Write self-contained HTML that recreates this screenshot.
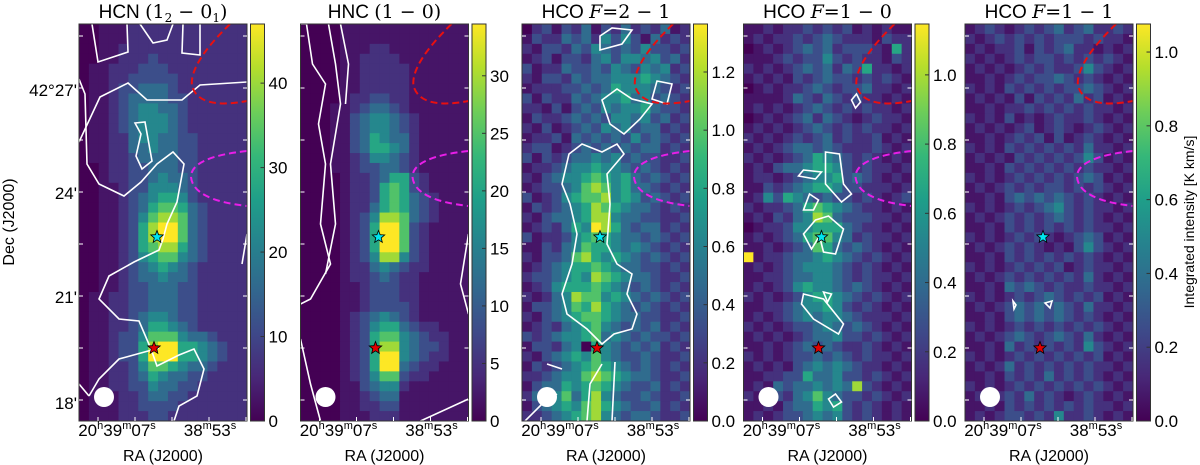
<!DOCTYPE html>
<html><head><meta charset="utf-8">
<style>
html,body{margin:0;padding:0;background:#fff;}
svg{display:block;font-family:"Liberation Sans",sans-serif;}
.m{font-family:"DejaVu Serif","Liberation Serif",serif;}
.mi{font-family:"DejaVu Serif","Liberation Serif",serif;font-style:italic;}
</style></head>
<body>
<svg id="fig" width="1200" height="465" viewBox="0 0 1200 465" xmlns="http://www.w3.org/2000/svg">
<text x="14" y="222" font-size="16" text-anchor="middle" transform="rotate(-90 14 222)">Dec (J2000)</text>
<text x="1194" y="222" font-size="14" text-anchor="middle" transform="rotate(-90 1194 222)">Integrated intensity [K km/s]</text>
</svg>
<script>
const panelTitles = ["HCN", "HNC", "HCO", "HCO", "HCO"];
const panelMax = [47, 34.5, 1.365, 1.147, 1.076];
const cbTicks = [[0,10,20,30,40],[0,5,10,15,20,25,30],[0,0.2,0.4,0.6,0.8,1.0,1.2],[0,0.2,0.4,0.6,0.8,1.0],[0,0.2,0.4,0.6,0.8,1.0]];
const cbLabels = [["0","10","20","30","40"],["0","5","10","15","20","25","30"],["0.0","0.2","0.4","0.6","0.8","1.0","1.2"],["0.0","0.2","0.4","0.6","0.8","1.0"],["0.0","0.2","0.4","0.6","0.8","1.0"]];
const decLabels = ["42°27'","24'","21'","18'"];
const decPos = [90,193,297,403];
const hcn = ["00111222222222222","00111222222222222","00112222222222222","00112223222222222","01122233322222222","01122333332222222","01123344432222222","01123444433222222","01123455443222222","01123455543222222","01123455543222222","01122455443322222","01122445443322222","01122344443322222","00122334443322222","00122334544322222","00112335554322222","00112345665322222","00112346776432222","00112357887432222","00112368997432222","00112368997432222","00112367886432222","00112356775432222","00112345654322222","00112344544322222","00112334443322222","01122334443322222","01122334443322222","01122345543322222","01122346654322222","01123357775443222","01123368996654322","01123369996654322","01122357765443222","01122346544332222","01122335443322222","01112234433222222","01112233332222222","01112223322222222"];
const hnc = ["00001111111111111","00001111111111111","00001112211111111","00001122221111111","00001122222111111","00001122222111111","00001122222111111","00001223322111111","00011234432111111","00011345543211111","00011345543211111","00011346544211111","00011346654211111","00011235543211111","00011233443211111","00001223466321111","00001223676321111","00001223676432111","00001224676432111","00001235887432111","00001236997321111","00001236997321111","00001236997321111","00001235885321111","00001224543221111","00001223432211111","00001123332211111","00001123332211111","00001123333211111","00001234543211111","00001235664322111","00001236775432211","00001236885433211","00001236995432211","00001236994322111","00001235773221111","00001134552111111","00001123441111111","00001122331111111","00001112221111111"];
const hco21 = ["02313241324232412","13224342535314232","21332435434353323","12313324535545342","31224334354354523","21332434455565432","12223343465554323","31322434556453432","22131343545564332","13223434355453423","21312343545344232","12231434343534323","23312343434344232","31323445453433223","12234556554343232","21345567656434323","12334578756443232","31235677856534323","13234568765443232","21344568854433223","12324659864344232","31223567654434323","11324576654543232","21334786565434323","12345667654433232","23345658765443223","12356667654343232","21245877565434323","13345768654343232","21345677654433223","12324567543434232","32345567454343323","13324506543434232","21345657543343223","13234567654343232","22345578765443223","13446567654334232","24557468543343223","13456578654334232","22345678543443223"];
const hco10 = ["11212232323121211","12122323432221322","01212343423332162","11123233532322132","21212343424362212","12121323433232321","01212234323342212","11112432432322121","12121234323232212","01212342432123221","12121234323232212","21212323423223121","12123443432223212","21212346543232121","12134456653232212","12212345563432121","11323456653322212","12536543433232123","21223467654322121","12132458743332212","01223556664322121","12123467754232212","11212347643432121","91223445654323212","12123455543232121","11223445543232212","12123565543432121","21212356654323212","11223455653232121","12123454554322212","21212334543432121","12121234453323212","11212343432232121","21212334343232212","12121345454322121","11223364453323212","12143445454832121","21232457543323212","11213446563232121","12123345453232121"];
const hco11 = ["12321232342342232","21232323233323221","12122313234221212","21212323323232321","12121232322353212","11212323343232121","21213232323343212","12121313232423121","11212232323232212","21213121232232121","12121231232123212","11212323131232121","21213232323242212","12121323232353121","11213232323232212","21212323232343121","12123232332323212","11213434343232121","21212323453232212","12123232343232121","11213232323232212","21212323212343121","12123232121353212","11213232323232121","21212323231232212","12123232323242121","11214343232232212","21212323432323121","12123434343242212","11213434343232121","21212323232323212","12123432343242121","11214232323253212","21212323232323121","12124232323232212","11213232423232121","21212323232323212","12123242321232121","11213232323232212","12123323252232121"];
const maps = [hcn, hnc, hco21, hco10, hco11];

const NS = "http://www.w3.org/2000/svg";
const svg = document.getElementById("fig");
const VIR = [[68,1,84],[72,40,120],[62,73,137],[49,104,142],[38,130,142],[31,158,137],[53,183,121],[109,205,89],[180,222,44],[253,231,37]];
function viridis(t){t=Math.max(0,Math.min(1,t));const p=t*(VIR.length-1);const i=Math.min(Math.floor(p),VIR.length-2);const f=p-i;const a=VIR[i],b=VIR[i+1];return `rgb(${Math.round(a[0]+(b[0]-a[0])*f)},${Math.round(a[1]+(b[1]-a[1])*f)},${Math.round(a[2]+(b[2]-a[2])*f)})`;}
function mk(tag, attrs, parent){const e=document.createElementNS(NS,tag);for(const k in attrs)e.setAttribute(k,attrs[k]);(parent||svg).appendChild(e);return e;}
function decode(d,max){return Math.pow(d/9,1.3)*max;}

const W=168,H=397,TOP=24,NC=17,NR=40;
const cw=W/NC, ch=H/NR;
const contours = [
 ["M13,0 L19,38 L49,28 L48,0","M61,0 L74,19 L88,16 L94,0","M104,0 L103,29 L121,31 L121,0","M0,118 L21,73 L49,59 L68,76 L103,76 L121,61 L168,58","M0,55 L6,70 L8,140 L20,160 L45,172 L62,158 L78,140 L94,128 L105,140 L98,178 L88,200 L84,215 L80,226 L55,238 L30,252 L20,275 L40,295 L60,297 L72,325 L78,342 L100,331 L115,325 L125,345 L118,372 L100,382 L95,397","M56,99 L66,98 L73,137 L63,145 L57,132 L62,110 Z","M80,324 L40,335 L20,355 L10,372","M10,372 L0,360","M168,210 L163,240"],
 ["M0,0 L6,0 L12,40 L25,60 L18,100 L25,140 L20,200 L30,240 L10,275 L0,280","M28,0 L35,40 L40,80 L30,140 L35,200 L25,250","M40,0 L48,40 L45,80","M168,210 L160,260 L168,290","M0,315 L10,360 L20,397","M120,397 L168,375"],
 ["M78,12 L90,4 L110,6 L100,20 L78,26 Z","M80,76 L95,65 L110,75 L130,80 L118,95 L102,110 L88,100 Z","M47,130 L60,120 L80,128 L95,120 L102,130 L85,150 L88,180 L85,220 L95,240 L110,250 L105,270 L115,290 L110,305 L92,310 L80,320 L65,305 L45,290 L40,270 L50,240 L55,210 L48,180 L40,160 Z","M93,338 L90,397","M80,340 L68,360 L65,397","M135,57 L150,60 L145,80 L130,75 Z","M0,400 L20,380 L35,370","M25,340 L40,345"],
 ["M60,146 L78,148 L72,155 L55,152 Z","M82,128 L96,130 L100,160 L108,170 L98,178 L82,160 Z","M66,170 L75,176 L70,186 L60,186 Z","M72,196 L85,192 L100,205 L92,230 L80,228 L76,212 L68,225 L60,210 Z","M60,270 L80,275 L100,300 L95,310 L70,295 L58,280 Z","M80,268 L88,270 L84,278 Z","M85,375 L92,370 L98,378 L90,383 Z","M108,76 L113,70 L117,78 L112,84 Z"],
 ["M80,279 L87,277 L85,284 Z","M48,277 L51,281 L49,285 Z"]
];
const sfx = [
 ' <tspan class="m">(1</tspan><tspan class="m" font-size="12" dy="4">2</tspan><tspan class="m" dy="-4"> − 0</tspan><tspan class="m" font-size="12" dy="4">1</tspan><tspan class="m" dy="-4">)</tspan>',
 ' <tspan class="m">(1 − 0)</tspan>',
 ' <tspan class="mi">F</tspan><tspan class="m">=2 − 1</tspan>',
 ' <tspan class="mi">F</tspan><tspan class="m">=1 − 0</tspan>',
 ' <tspan class="mi">F</tspan><tspan class="m">=1 − 1</tspan>'];
for(let p=0;p<5;p++){
  const x0 = 79 + p*221.5;
  const g = mk("g",{});
  
  
  const clip = mk("clipPath",{id:"c"+p},g);
  mk("rect",{x:x0,y:TOP,width:W,height:H},clip);
  const hm = mk("g",{"clip-path":`url(#c${p})`},g);
  
  
  const data = maps[p];
  for(let r=0;r<NR;r++){for(let c=0;c<NC;c++){
    const v = decode(+data[r][c], panelMax[p]);
    const cell = mk("rect",{x:(x0+c*cw).toFixed(2),y:(TOP+r*ch).toFixed(2),width:(cw+0.6).toFixed(2),height:(ch+0.6).toFixed(2),fill:viridis(v/panelMax[p])},hm);
    
    
  }}
  const ov = mk("g",{transform:`translate(${x0},${TOP})`},hm);
  for(const d of contours[p]){
    const cl = mk("path",{d:d,fill:"none",stroke:"#fff","stroke-width":1.6},ov);
    
    
  }
  const re = mk("path",{d:"M151,0 Q110,40 113,62 Q120,86 168,77",fill:"none",stroke:"#e81010","stroke-width":2,"stroke-dasharray":"7,4"},ov);
  
  
  const me = mk("path",{d:"M168,127 Q112,133 112,153 Q114,176 168,182",fill:"none",stroke:"#e81ee8","stroke-width":2,"stroke-dasharray":"7,4"},ov);
  
  
  const beam = mk("circle",{cx:25,cy:373,r:10,fill:"#fff"},ov);
  
  
  const star=(cx,cy,col,nm)=>{let pts=[];for(let i=0;i<10;i++){const a=-Math.PI/2+i*Math.PI/5;const rr=i%2?2.8:6.5;pts.push((cx+rr*Math.cos(a)).toFixed(1)+","+(cy+rr*Math.sin(a)).toFixed(1));}
    const s=mk("polygon",{points:pts.join(" "),fill:col,stroke:"#000","stroke-width":0.8},ov);
    
    };
  star(78,213,"#00e5ee","cyan-star");
  star(75,324,"#e00000","red-star");
  const fr = mk("rect",{x:x0,y:TOP,width:W,height:H,fill:"none",stroke:"#333","stroke-width":1},g);
  
  
  for(let t=0;t<8;t++){const ty=TOP+12+t*52;mk("line",{x1:x0,y1:ty,x2:x0+4,y2:ty,stroke:"#fff","stroke-width":1},g);mk("line",{x1:x0+W,y1:ty,x2:x0+W-4,y2:ty,stroke:"#fff","stroke-width":1},g);}
  for(let t=0;t<5;t++){const tx=x0+19+t*37;mk("line",{x1:tx,y1:TOP+H,x2:tx,y2:TOP+H-4,stroke:"#fff","stroke-width":1},g);}
  const ra1 = mk("text",{x:x0+38,y:436,"font-size":17,"text-anchor":"middle"},g);
  
  
  ra1.innerHTML='20<tspan font-size="11" dy="-7">h</tspan><tspan dy="7">39</tspan><tspan font-size="11" dy="-7">m</tspan><tspan dy="7">07</tspan><tspan font-size="11" dy="-7">s</tspan>';
  const ra2 = mk("text",{x:x0+131,y:436,"font-size":17,"text-anchor":"middle"},g);
  
  
  ra2.innerHTML='38<tspan font-size="11" dy="-7">m</tspan><tspan dy="7">53</tspan><tspan font-size="11" dy="-7">s</tspan>';
  const xt = mk("text",{x:x0+84,y:461,"font-size":16,"text-anchor":"middle"},g);
  
  
  xt.textContent='RA (J2000)';
  const tt = mk("text",{x:x0+84,y:18,"font-size":19,"text-anchor":"middle"},g);
  
  
  tt.innerHTML = panelTitles[p] + sfx[p];
  const cx0 = x0+W+3.5, cbw=14;
  const grad = mk("linearGradient",{id:"g"+p,x1:0,y1:1,x2:0,y2:0},g);
  for(let i=0;i<VIR.length;i++){mk("stop",{offset:i/(VIR.length-1),"stop-color":viridis(i/(VIR.length-1))},grad);}
  const cb = mk("rect",{x:cx0,y:TOP,width:cbw,height:H,fill:`url(#g${p})`,stroke:"#333","stroke-width":1},g);
  
  
  cbTicks[p].forEach((v,i)=>{
    const ty = TOP+H - v/panelMax[p]*H;
    mk("line",{x1:cx0+cbw,y1:ty,x2:cx0+cbw-4,y2:ty,stroke:"#333","stroke-width":1},g);
    const lb = mk("text",{x:cx0+cbw+4,y:ty+6,"font-size":17},g);
    
    
    lb.textContent = cbLabels[p][i];
  });
}
decLabels.forEach((s,i)=>{
  const t = mk("text",{x:77,y:decPos[i]+6,"font-size":17,"text-anchor":"end"});
  
  
  t.textContent=s;
});
</script>
</body></html>
